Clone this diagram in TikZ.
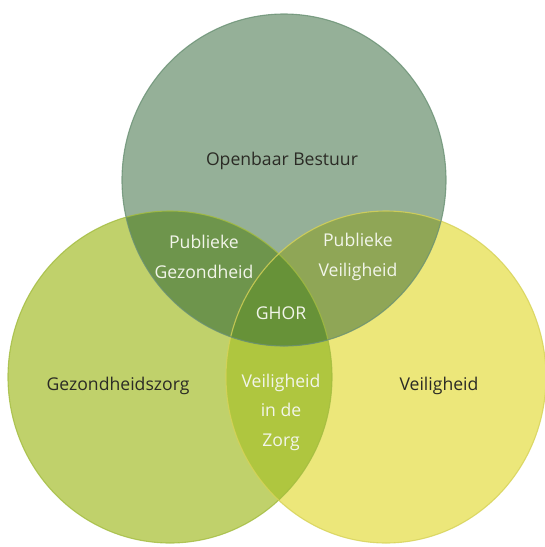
\documentclass[tikz,border=0pt]{standalone}
\usepackage{fontspec}
\setmainfont{Open Sans}
\definecolor{topfill}{HTML}{95B098}
\definecolor{leftfill}{HTML}{C0D16B}
\definecolor{rightfill}{HTML}{ECE77A}
\definecolor{tlfill}{HTML}{6E954C}
\definecolor{trfill}{HTML}{8FA656}
\definecolor{lrfill}{HTML}{AFC63F}
\definecolor{allfill}{HTML}{679238}
\definecolor{topline}{HTML}{6A9174}
\definecolor{leftline}{HTML}{A3BC40}
\definecolor{rightline}{HTML}{D6D257}
\definecolor{darktext}{HTML}{2B2B25}
\definecolor{lighttext}{HTML}{F2F5EA}
\begin{document}
\begin{tikzpicture}[x=1pt,y=-1pt,
  lbl/.style={font=\fontsize{17.6}{29.5}\selectfont, align=center, inner sep=0pt},
  darklbl/.style={lbl, text=darktext},
  lightlbl/.style={lbl, text=lighttext},
  rim/.style={line width=1.1pt, opacity=0.8}]
\useasboundingbox (0,0) rectangle (545,547);
\coordinate (T) at (284,180);
\coordinate (L) at (170,377);
\coordinate (R) at (386,377);
% base fills
\fill[topfill] (T) ellipse [x radius=162, y radius=166];
\fill[leftfill] (L) ellipse [x radius=162, y radius=166];
\fill[rightfill] (R) ellipse [x radius=160, y radius=166];
% pairwise overlaps
\begin{scope}
  \clip (L) ellipse [x radius=162, y radius=166];
  \fill[lrfill] (R) ellipse [x radius=160, y radius=166];
\end{scope}
\begin{scope}
  \clip (T) ellipse [x radius=162, y radius=166];
  \fill[tlfill] (L) ellipse [x radius=162, y radius=166];
  \fill[trfill] (R) ellipse [x radius=160, y radius=166];
  \clip (L) ellipse [x radius=162, y radius=166];
  \fill[allfill] (R) ellipse [x radius=160, y radius=166];
\end{scope}
% outlines
\draw[rim, leftline] (L) ellipse [x radius=162, y radius=166];
\draw[rim, rightline] (R) ellipse [x radius=160, y radius=166];
\draw[rim, topline] (T) ellipse [x radius=162, y radius=166];
% labels
\node[darklbl] (ob) at (282,161) {Openbaar Bestuur};
\node[darklbl] (gz) at (118,386) {Gezondheidszorg};
\node[darklbl] (vh) at (439,386) {Veiligheid};
\node[lightlbl] (pg) at (204,257) {Publieke\\Gezondheid};
\node[lightlbl] (pv) at (358,257) {Publieke\\Veiligheid};
\node[lightlbl] (gh) at (281,313) {GHOR};
\node[lightlbl] (vz) at (281,412) {Veiligheid\\in de\\Zorg};
\end{tikzpicture}
\end{document}
